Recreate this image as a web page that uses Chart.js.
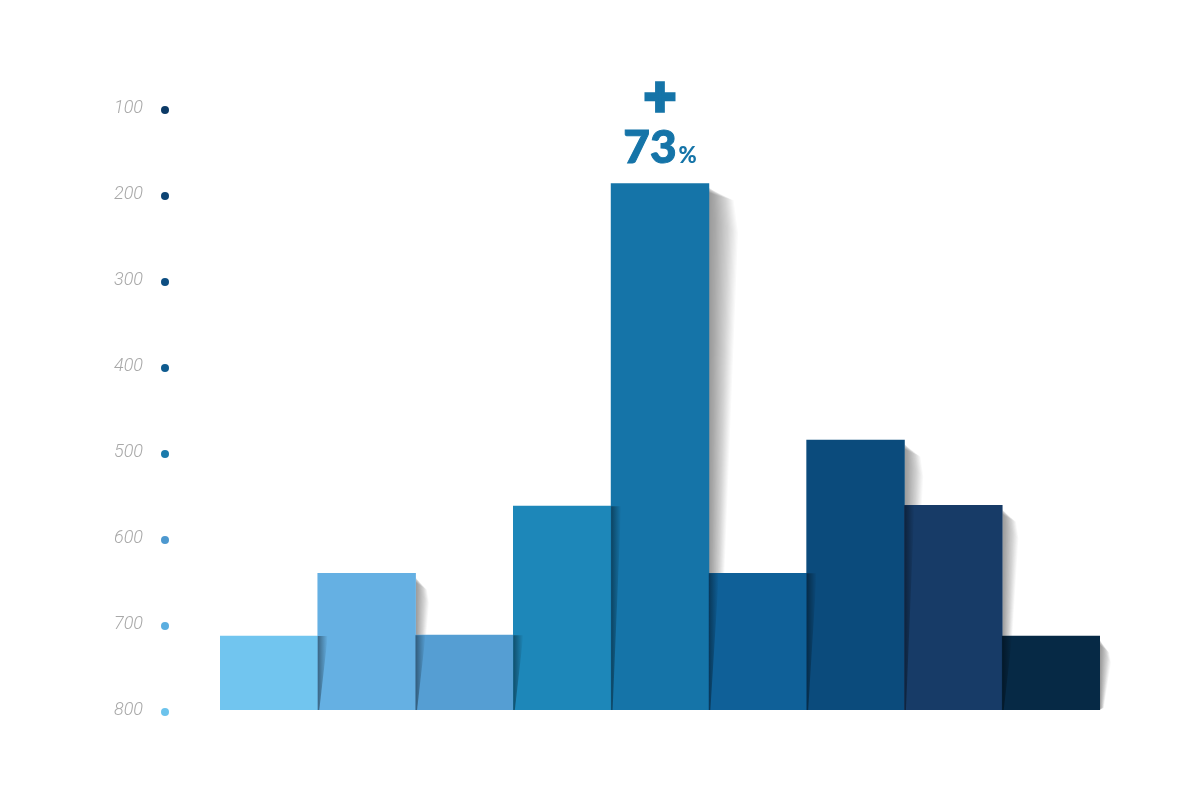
<!DOCTYPE html>
<html>
<head>
<meta charset="utf-8">
<script src="https://cdn.jsdelivr.net/npm/chart.js@4"></script>
<style>
html,body{margin:0;padding:0;background:#fff;}
#wrap{width:1200px;height:800px;position:relative;}
</style>
</head>
<body>
<div id="wrap"><canvas id="c" width="1200" height="800"></canvas></div>
<script>
const categories = ["1","2","3","4","5","6","7","8","9"];
const barTops = [714, 641, 713, 563, 188, 641, 486, 562, 714];
const baseValue = 800;
const barColors = ["#71C5EF","#65B0E3","#559ED3","#1D87B9","#1574A8","#0F6098","#0B4B7C","#173B67","#062945"];
const tickValues = [100,200,300,400,500,600,700,800];
const dotColors = ["#0B3A66","#0C4373","#0D4E82","#0F5B8F","#1A7AAB","#4D98CF","#5AAEE0","#6CC3EC"];
const highlightIndex = 4;
const highlightSign = "+";
const highlightValue = "73";
const highlightUnit = "%";

function barBox(bar) {
  return {
    left: bar.x - bar.width / 2,
    right: bar.x + bar.width / 2,
    top: Math.min(bar.y, bar.base),
    bottom: Math.max(bar.y, bar.base)
  };
}

const shadowPlugin = {
  id: 'barShadows',
  beforeDatasetsDraw(chart) {
    const ctx = chart.ctx;
    const meta = chart.getDatasetMeta(0);
    ctx.save();
    meta.data.forEach((bar) => {
      const b = barBox(bar);
      const h = b.bottom - b.top;
      const w = Math.min(30, 8 + h * 0.04);
      const N = 24;
      for (let s = 0; s < N; s++) {
        const ww = w * (s + 1) / N;
        const d = s / N * 12;
        ctx.fillStyle = 'rgba(0,0,0,0.022)';
        ctx.beginPath();
        ctx.moveTo(b.right, b.top + 3 + d * 0.5);
        ctx.lineTo(b.right + ww * 0.85, b.top + 5 + d);
        ctx.lineTo(b.right + ww, b.top + 8 + d * 1.3 + h * 0.05);
        ctx.lineTo(b.right + ww * 0.35, b.bottom - 2);
        ctx.lineTo(b.right, b.bottom);
        ctx.closePath();
        ctx.fill();
      }
    });
    ctx.restore();
  },
  afterDatasetsDraw(chart) {
    const ctx = chart.ctx;
    const meta = chart.getDatasetMeta(0);
    ctx.save();
    meta.data.forEach((bar, i) => {
      if (i === meta.data.length - 1) return;
      const b = barBox(bar);
      const n = barBox(meta.data[i + 1]);
      const top = Math.max(b.top, n.top);
      const bottom = b.bottom;
      const g = ctx.createLinearGradient(b.right, 0, b.right + 10, 0);
      g.addColorStop(0, 'rgba(0,0,0,0.42)');
      g.addColorStop(1, 'rgba(0,0,0,0)');
      ctx.fillStyle = g;
      ctx.beginPath();
      ctx.moveTo(b.right, top);
      ctx.lineTo(b.right + 10, top);
      ctx.lineTo(b.right + 1.5, bottom);
      ctx.lineTo(b.right, bottom);
      ctx.closePath();
      ctx.fill();
    });
    ctx.restore();
  }
};

const axisDotsPlugin = {
  id: 'axisDots',
  afterDraw(chart) {
    const ctx = chart.ctx;
    const y = chart.scales.y;
    ctx.save();
    tickValues.forEach((v, i) => {
      const py = y.getPixelForValue(v);
      ctx.fillStyle = dotColors[i];
      ctx.beginPath();
      ctx.arc(165, py + 2, 4, 0, Math.PI * 2);
      ctx.fill();
    });
    ctx.restore();
  }
};

const peakLabelPlugin = {
  id: 'peakLabel',
  afterDraw(chart) {
    const ctx = chart.ctx;
    const b = barBox(chart.getDatasetMeta(0).data[highlightIndex]);
    const cx = (b.left + b.right) / 2;
    const col = barColors[highlightIndex];
    ctx.save();
    ctx.fillStyle = col;
    ctx.strokeStyle = col;
    ctx.textBaseline = 'alphabetic';
    ctx.textAlign = 'center';
    ctx.font = '900 56px Lato';
    const m = ctx.measureText(highlightSign);
    const plusY = b.top - 87 + (m.actualBoundingBoxAscent - m.actualBoundingBoxDescent) / 2;
    ctx.lineWidth = 3.5;
    ctx.lineJoin = 'miter';
    ctx.fillText(highlightSign, cx, plusY);
    ctx.strokeText(highlightSign, cx, plusY);
    ctx.font = '900 46px Lato';
    const w1 = ctx.measureText(highlightValue).width;
    ctx.font = '900 22px Lato';
    const w2 = ctx.measureText(highlightUnit).width;
    const startX = cx - (w1 + w2 + 2) / 2;
    ctx.textAlign = 'left';
    ctx.font = '900 46px Lato';
    ctx.lineWidth = 1;
    ctx.fillText(highlightValue, startX, b.top - 21);
    ctx.strokeText(highlightValue, startX, b.top - 21);
    ctx.font = '900 22px Lato';
    ctx.fillText(highlightUnit, startX + w1 + 2, b.top - 21);
    ctx.restore();
  }
};

new Chart(document.getElementById('c'), {
  type: 'bar',
  data: {
    labels: categories,
    datasets: [{
      data: barTops.map(v => [baseValue, v]),
      backgroundColor: barColors,
      borderWidth: 0,
      borderSkipped: false,
      categoryPercentage: 1.0,
      barPercentage: 1.0
    }]
  },
  options: {
    responsive: false,
    animation: false,
    devicePixelRatio: 1,
    layout: { padding: { left: 100, right: 100, top: 108, bottom: 90 } },
    plugins: { legend: { display: false }, tooltip: { enabled: false } },
    scales: {
      x: { display: false },
      y: {
        reverse: true,
        min: 100,
        max: 800,
        afterFit: s => { s.width = 120; },
        afterBuildTicks: s => { s.ticks = tickValues.map(v => ({ value: v })); },
        grid: { display: false },
        border: { display: false },
        ticks: {
          padding: 69,
          color: '#A8A8A8',
          font: { family: 'Roboto', size: 18, style: 'italic', weight: '300' }
        }
      }
    }
  },
  plugins: [shadowPlugin, axisDotsPlugin, peakLabelPlugin]
});
</script>
</body>
</html>
